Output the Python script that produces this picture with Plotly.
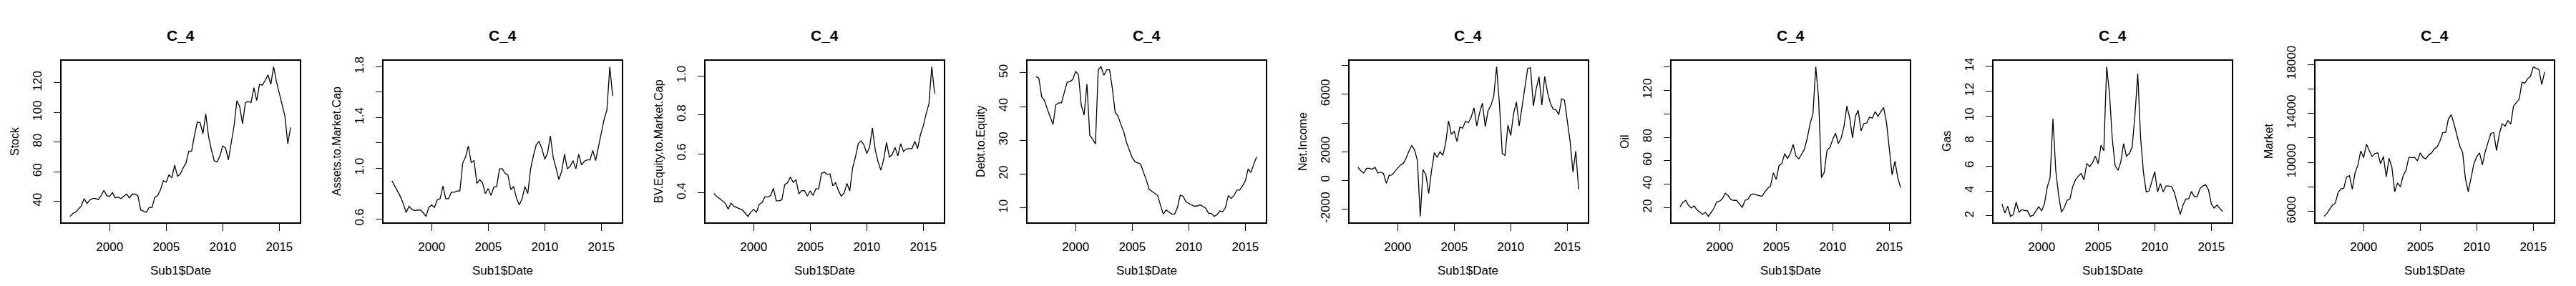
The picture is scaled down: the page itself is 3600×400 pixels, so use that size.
import pandas as pd
import plotly.graph_objects as go

# quarterly observations, mid-1996 to end-2015
dates = pd.date_range("1996-06-30", periods=79, freq="QE")

stock = [30, 32, 33, 35, 37, 42, 38.7, 41, 42, 42, 41.3, 44, 47.5, 44, 43.5, 46, 42.5, 43, 42, 43.5,
         45, 42.5, 45, 45, 44, 34.3, 33.5, 32.7, 36, 36, 43, 44, 48, 54, 53, 58, 56, 64.5, 57, 58.6,
         62.6, 66, 74, 74, 84.4, 93.6, 93, 85.7, 99, 83.6, 74.7, 67.5, 66.7, 70.7, 77.5, 76, 68, 80.4, 91, 108,
         104, 92.5, 106.6, 107.5, 106.6, 116.7, 108, 119, 118.4, 121.6, 125.3, 119, 130.8, 120.8, 112.7, 104.6, 97.4, 79, 90]

assets_mcap = [0.90, 0.86, 0.82, 0.775, 0.72, 0.65, 0.70, 0.675, 0.665, 0.67, 0.67, 0.65, 0.62, 0.69, 0.71, 0.69, 0.75, 0.76, 0.86, 0.76,
               0.76, 0.81, 0.81, 0.82, 0.82, 1.04, 1.09, 1.175, 1.045, 1.06, 0.88, 0.91, 0.885, 0.80, 0.84, 0.785, 0.85, 0.855, 0.995, 0.995,
               0.96, 0.945, 0.83, 0.855, 0.765, 0.71, 0.76, 0.855, 0.80, 0.995, 1.10, 1.185, 1.21, 1.155, 1.07, 1.12, 1.255, 1.085, 1.00, 0.91,
               0.975, 1.11, 0.995, 1.015, 1.06, 0.995, 1.11, 1.025, 1.055, 1.065, 1.065, 1.14, 1.06, 1.175, 1.29, 1.385, 1.46, 1.80, 1.57]

bv_mcap = [0.396, 0.38, 0.37, 0.358, 0.346, 0.316, 0.347, 0.331, 0.325, 0.32, 0.312, 0.296, 0.279, 0.30, 0.315, 0.30, 0.341, 0.35, 0.38, 0.378,
           0.386, 0.423, 0.359, 0.359, 0.364, 0.442, 0.452, 0.481, 0.454, 0.467, 0.395, 0.411, 0.411, 0.383, 0.41, 0.386, 0.42, 0.42, 0.50, 0.506,
           0.495, 0.497, 0.436, 0.452, 0.411, 0.383, 0.399, 0.448, 0.41, 0.528, 0.584, 0.652, 0.667, 0.646, 0.602, 0.633, 0.732, 0.621, 0.559, 0.516,
           0.572, 0.658, 0.584, 0.596, 0.633, 0.59, 0.652, 0.612, 0.625, 0.627, 0.627, 0.664, 0.627, 0.70, 0.744, 0.806, 0.856, 1.047, 0.909]

debt_equity = [48.9, 48.4, 42.9, 41.8, 39.3, 36.8, 34.7, 40.5, 41.1, 41.1, 44.3, 47.2, 47.4, 48, 50.4, 49.5, 40.4, 37.5, 46.7, 31.5,
               30.4, 28.9, 50.9, 51.8, 49.3, 50.9, 50.9, 45.4, 38.3, 37.2, 34.7, 32.6, 29.4, 27.2, 24.9, 23.7, 23.3, 23, 20.5, 18.3,
               15.5, 14.9, 14.4, 13.7, 10.9, 8.2, 9.4, 8.7, 8.2, 8.2, 10.1, 13.8, 13.5, 11.8, 11.4, 10.9, 10.5, 10.6, 10.9, 10.5,
               9.9, 8.4, 8.4, 7.5, 8.0, 9.1, 8.9, 10.1, 13.7, 12.8, 13.7, 15.3, 15.3, 16.5, 18, 21.5, 20.5, 23, 25.1]

net_income = [917, 667, 517, 850, 850, 783, 917, 517, 583, 483, -200, 350, 383, 617, 850, 1083, 1183, 1550, 2050, 2433,
              2133, 1383, -2500, 750, 400, -900, 700, 1950, 1600, 2000, 1750, 2600, 4150, 3217, 3417, 2717, 3717, 3633, 4133, 4017,
              4383, 5050, 3800, 4717, 5383, 3750, 4883, 5217, 5883, 7917, 5300, 1883, 1750, 3850, 3133, 4633, 5467, 3800, 5133, 6383,
              7800, 7850, 5183, 6383, 7217, 5250, 7250, 6133, 5383, 4967, 4917, 4583, 5683, 5583, 4050, 2717, 583, 2050, -617]

oil = [20.8, 24.7, 26.3, 22.2, 19.8, 21.6, 18.2, 16.1, 14.5, 16.1, 12.7, 16.1, 19.6, 24.9, 25.7, 27.8, 32.4, 30.4, 26.9, 26.3,
       26.3, 23.3, 20.2, 26.3, 27.3, 31, 31.8, 31, 30.4, 29.8, 33.5, 36.5, 38.6, 49.8, 44.1, 55.9, 57.6, 66.1, 62, 66.1,
       73.9, 64.1, 61.6, 65.7, 69.8, 79.4, 91.6, 99.8, 140, 113, 45.7, 50.2, 69.2, 71.2, 78.4, 83.5, 74.7, 79.4, 89.6, 106.5,
       96.7, 79.4, 97.8, 102.9, 85.5, 91.6, 92.2, 97.1, 96.3, 101.8, 97.8, 101.8, 105.3, 92.7, 70, 48, 59.6, 45.7, 37.1]

gas = [2.96, 2.23, 2.77, 1.96, 2.1, 3.1, 2.3, 2.5, 2.42, 2.42, 1.96, 2.04, 2.4, 2.73, 2.4, 2.96, 4.3, 5.1, 9.8, 5.65,
       3.7, 2.3, 2.67, 3.25, 3.35, 4.35, 4.9, 5.2, 5.4, 4.9, 6.2, 5.94, 6.27, 6.8, 6.2, 7.67, 7.23, 13.96, 11.8, 8.15,
       6.04, 5.65, 6.33, 7.8, 6.8, 7.0, 7.5, 10.1, 13.4, 8.25, 5.46, 3.92, 4.0, 4.8, 5.56, 3.92, 4.6, 3.92, 4.4, 4.4,
       4.35, 3.83, 2.96, 2.1, 2.87, 3.35, 3.38, 3.96, 3.54, 3.54, 4.2, 4.4, 4.5, 4.1, 2.96, 2.62, 2.87, 2.58, 2.35]

market = [5610, 5845, 6195, 6527, 6683, 7561, 7854, 7912, 8829, 8927, 7815, 9180, 9805, 10936, 10390, 11502, 10975, 10488, 10722, 10780,
          9902, 10488, 8829, 10351, 9610, 7620, 8342, 8010, 8927, 9376, 10429, 10390, 10429, 10136, 10780, 10429, 10292, 10624, 10780, 11112,
          11268, 11756, 12439, 12439, 13551, 13902, 13122, 12146, 11327, 10819, 8673, 7620, 8732, 9902, 10488, 10780, 9805, 10878, 11658, 12380,
          12439, 10975, 12341, 13161, 12966, 13414, 13122, 14585, 14878, 15170, 16536, 16477, 16829, 17024, 17804, 17706, 17570, 16341, 17375]

series_names = ["Stock", "Assets.to.Market.Cap", "BV.Equity.to.Market.Cap", "Debt.to.Equity",
                "Net.Income", "Oil", "Gas", "Market"]
series_values = [stock, assets_mcap, bv_mcap, debt_equity, net_income, oil, gas, market]

# y ticks (R drops labels that would overlap)
y_tickvals = [
    [40, 60, 80, 100, 120],
    [0.6, 0.8, 1.0, 1.2, 1.4, 1.6, 1.8],
    [0.4, 0.6, 0.8, 1.0],
    [10, 20, 30, 40, 50],
    [-2000, 0, 2000, 4000, 6000, 8000],
    [20, 40, 60, 80, 100, 120, 140],
    [2, 4, 6, 8, 10, 12, 14],
    [6000, 8000, 10000, 12000, 14000, 16000, 18000],
]
y_ticktext = [
    ["40", "60", "80", "100", "120"],
    ["0.6", "", "1.0", "", "1.4", "", "1.8"],
    ["0.4", "0.6", "0.8", "1.0"],
    ["10", "20", "30", "40", "50"],
    ["-2000", "0", "2000", "", "6000", ""],
    ["20", "40", "60", "80", "", "120", ""],
    ["2", "4", "6", "8", "10", "12", "14"],
    ["6000", "", "10000", "", "14000", "", "18000"],
]
x_tickvals = ["2000-01-01", "2005-01-01", "2010-01-01", "2015-01-01"]
x_ticktext = ["2000", "2005", "2010", "2015"]

title_text = "C_4"
xlab = "Sub1$Date"

W, H = 3600, 400
panel_w = 450
box_l, box_r = 77.5, 410.5
box_t, box_b = 77, 303
font = "Arial, Liberation Sans, sans-serif"

fig = go.Figure()
annotations = []

# R style 4% padding on the date axis
span = dates.max() - dates.min()
x_range = [dates.min() - span * 0.04, dates.max() + span * 0.04]

for k, (name, vals) in enumerate(zip(series_names, series_values)):
    ax = "" if k == 0 else str(k + 1)
    fig.add_trace(go.Scatter(x=dates, y=vals, mode="lines",
                             line=dict(color="black", width=1.3),
                             xaxis="x" + ax, yaxis="y" + ax, showlegend=False))
    lo, hi = min(vals), max(vals)
    pad = (hi - lo) * 0.04
    x0 = (panel_w * k + box_l) / W
    x1 = (panel_w * k + box_r) / W
    common = dict(showline=True, mirror=True, linecolor="black", linewidth=1.5,
                  ticks="outside", tickcolor="black", tickwidth=1.2,
                  showgrid=False, zeroline=False, automargin=False,
                  tickfont=dict(family=font, size=17, color="black"))
    fig.update_layout(**{
        "xaxis" + ax: dict(domain=[x0, x1], range=x_range, anchor="y" + ax,
                           tickmode="array", tickvals=x_tickvals, ticktext=x_ticktext,
                           ticklen=10, ticklabelstandoff=8, **common),
        "yaxis" + ax: dict(domain=[1 - box_b / H, 1 - box_t / H], range=[lo - pad, hi + pad],
                           anchor="x" + ax, tickmode="array", tickvals=y_tickvals[k],
                           ticktext=y_ticktext[k], tickangle=-90, ticklen=9,
                           ticklabelstandoff=10, **common),
    })
    cx = (x0 + x1) / 2
    annotations.append(dict(text="<b>" + title_text + "</b>", x=cx, y=1 - 42 / H,
                            xref="paper", yref="paper", xanchor="center", yanchor="middle",
                            showarrow=False, font=dict(family=font, size=21, color="black")))
    annotations.append(dict(text=xlab, x=cx, y=1 - 370 / H, xref="paper", yref="paper",
                            xanchor="center", yanchor="middle",
                            showarrow=False, font=dict(family=font, size=17, color="black")))
    annotations.append(dict(text=name, x=(panel_w * k + 12) / W, y=1 - (box_t + box_b) / 2 / H,
                            xref="paper", yref="paper", xanchor="center", yanchor="middle",
                            showarrow=False, textangle=-90,
                            font=dict(family=font, size=16, color="black")))

fig.update_layout(width=W, height=H, margin=dict(l=0, r=0, t=0, b=0, autoexpand=False),
                  paper_bgcolor="white", plot_bgcolor="white",
                  annotations=annotations)

fig.write_html("out.html")
